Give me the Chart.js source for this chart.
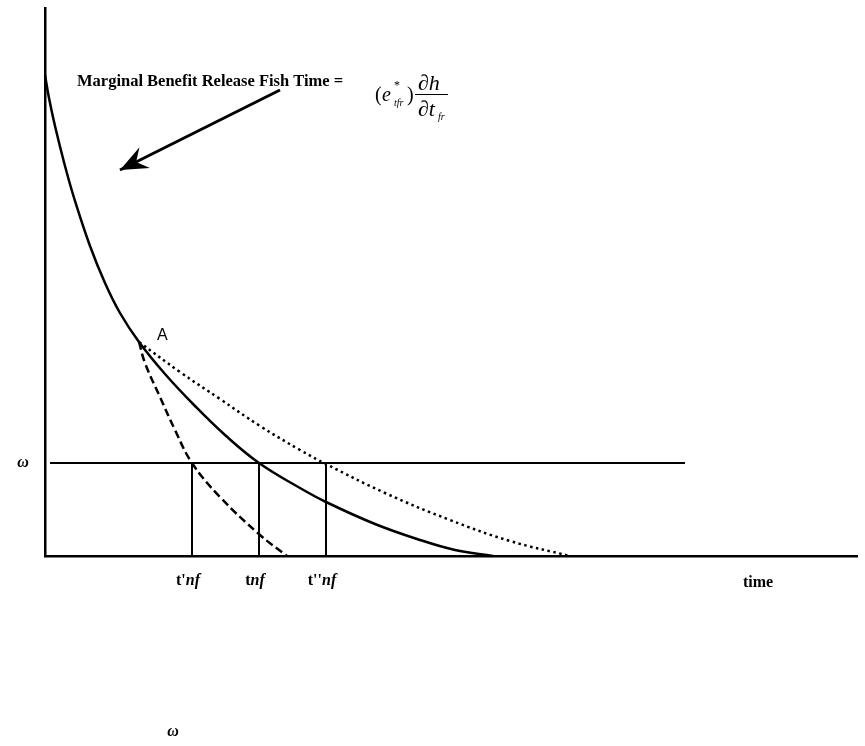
<!DOCTYPE html>
<html>
<head>
<meta charset="utf-8">
<script src="https://cdn.jsdelivr.net/npm/chart.js@4.4.1/dist/chart.umd.min.js"></script>
<style>
  html, body { margin: 0; padding: 0; background: #fff; }
  #wrap { width: 865px; height: 746px; }
</style>
</head>
<body>
<div id="wrap"><canvas id="chart" width="865" height="746"></canvas></div>
<script>
// curve readings (time on x, value on y)
const solidX  = [0, 4, 10, 20, 30, 45, 60, 75, 94, 120, 150, 180, 214, 255, 281, 330, 372, 410, 448];
const solidY  = [481, 458, 430, 390, 355, 310, 273, 243, 214, 182, 150, 121, 93, 68, 54, 32, 17, 6, 0];
const dashX   = [94, 100, 115, 130, 147, 175, 215, 242];
const dashY   = [214, 193, 159, 126, 93, 59, 21, 0];
const dotX    = [94, 135, 175, 215, 255, 281, 340, 405, 465, 525];
const dotY    = [214, 184, 157, 130, 106, 92, 63, 36, 15, 0];

// wage level line and the three stopping times
const omegaLevel = 93;
const omegaStart = 5, omegaEnd = 640;
const stopTimes = [147, 214, 281];
const stopLabels = [["t'", "nf"], ["t", "nf"], ["t''", "nf"]];

const xMax = 812, yMax = 548;

const toPts = (xs, ys) => xs.map((x, i) => ({ x, y: ys[i] }));

const lineBase = { borderColor: '#000', pointRadius: 0, showLine: true, fill: false, clip: false };

const datasets = [
    { ...lineBase, data: toPts(solidX, solidY), borderWidth: 2.5, tension: 0.4 },
    { ...lineBase, data: toPts(dashX, dashY), borderWidth: 2.5, borderDash: [8, 4], tension: 0.4 },
    { ...lineBase, data: toPts(dotX, dotY), borderWidth: 2.5, borderDash: [2.5, 3.5], tension: 0.4 },
    { ...lineBase, data: [{ x: omegaStart, y: omegaLevel }, { x: omegaEnd, y: omegaLevel }], borderWidth: 2 }
];
stopTimes.forEach(t => {
    datasets.push({ ...lineBase, data: [{ x: t, y: 0 }, { x: t, y: omegaLevel }], borderWidth: 2 });
});

// draw pieces of text one after another, each with its own font
function drawRuns(ctx, runs, x, y, align) {
    let total = 0;
    runs.forEach(r => { ctx.font = r.font; total += ctx.measureText(r.text).width; });
    let cx = align === 'center' ? x - total / 2 : x;
    runs.forEach(r => {
        ctx.font = r.font;
        ctx.fillText(r.text, cx, y + (r.dy || 0));
        cx += ctx.measureText(r.text).width;
    });
}

const notes = {
    id: 'notes',
    afterDatasetsDraw(chart) {
        const ctx = chart.ctx;
        const xs = chart.scales.x, ys = chart.scales.y;
        const px = v => xs.getPixelForValue(v), py = v => ys.getPixelForValue(v);
        ctx.save();
        ctx.fillStyle = '#000';
        ctx.strokeStyle = '#000';
        ctx.textBaseline = 'alphabetic';

        // headline
        ctx.font = 'bold 16.5px "Liberation Serif", "Times New Roman", serif';
        ctx.textAlign = 'left';
        ctx.fillText('Marginal Benefit Release Fish Time =', px(32), py(470));

        // formula (e*_tfr) dh/dt_fr
        const fx = px(330), fy = py(455);
        const it = s => `italic ${s}px "Liberation Serif", serif`;
        const rm = s => `${s}px "Liberation Serif", serif`;
        ctx.font = rm(20); ctx.fillText('(', fx, fy);
        ctx.font = it(20); ctx.fillText('e', fx + 7, fy);
        ctx.font = rm(12); ctx.fillText('*', fx + 19, fy - 12);
        ctx.font = it(10); ctx.fillText('tfr', fx + 19, fy + 5);
        ctx.font = rm(20); ctx.fillText(')', fx + 32, fy);
        ctx.font = it(22); ctx.fillText('\u2202h', fx + 43, fy - 11);
        ctx.lineWidth = 1;
        ctx.beginPath(); ctx.moveTo(fx + 40, fy - 6.5); ctx.lineTo(fx + 73, fy - 6.5); ctx.stroke();
        ctx.font = it(22); ctx.fillText('\u2202t', fx + 43, fy + 15);
        ctx.font = it(10); ctx.fillText('fr', fx + 63, fy + 19);

        // arrow
        const ax0 = px(235), ay0 = py(466), ax1 = px(75), ay1 = py(386);
        ctx.lineWidth = 3;
        ctx.beginPath(); ctx.moveTo(ax0, ay0); ctx.lineTo(ax1, ay1); ctx.stroke();
        const ang = Math.atan2(ay1 - ay0, ax1 - ax0);
        const hl = 30, hw = 0.4;
        ctx.beginPath();
        ctx.moveTo(ax1, ay1);
        ctx.lineTo(ax1 - hl * Math.cos(ang - hw), ay1 - hl * Math.sin(ang - hw));
        ctx.lineTo(ax1 - hl * 0.6 * Math.cos(ang), ay1 - hl * 0.6 * Math.sin(ang));
        ctx.lineTo(ax1 - hl * Math.cos(ang + hw), ay1 - hl * Math.sin(ang + hw));
        ctx.closePath(); ctx.fill();

        // point A
        ctx.font = '16px "Liberation Sans", Arial, sans-serif';
        ctx.fillText('A', px(112), py(216));

        // omega labels
        ctx.font = 'italic bold 16px "Liberation Serif", serif';
        ctx.textAlign = 'center';
        ctx.fillText('\u03c9', px(-22), py(omegaLevel) + 4);
        ctx.fillText('\u03c9', px(128), py(-180));

        // stopping-time labels
        ctx.textAlign = 'left';
        stopTimes.forEach((t, i) => {
            drawRuns(ctx, [
                { text: stopLabels[i][0], font: 'bold 16px "Liberation Serif", serif' },
                { text: stopLabels[i][1], font: 'italic bold 16px "Liberation Serif", serif' }
            ], px(t) - 4, py(-29), 'center');
        });
        ctx.font = 'bold 16px "Liberation Serif", serif';
        ctx.textAlign = 'center';
        ctx.fillText('time', px(713), py(-31));
        ctx.restore();
    }
};

new Chart(document.getElementById('chart'), {
    type: 'scatter',
    data: { datasets },
    options: {
        responsive: false,
        animation: false,
        layout: { padding: { left: 45, right: 8, top: 8, bottom: 190 } },
        plugins: { legend: { display: false }, tooltip: { enabled: false } },
        scales: {
            x: {
                type: 'linear', min: 0, max: xMax,
                ticks: { display: false },
                grid: { display: false, drawTicks: false },
                border: { color: '#000', width: 2.5 }
            },
            y: {
                type: 'linear', min: 0, max: yMax,
                ticks: { display: false },
                grid: { display: false, drawTicks: false },
                border: { color: '#000', width: 2.5 }
            }
        }
    },
    plugins: [notes]
});
</script>
</body>
</html>
